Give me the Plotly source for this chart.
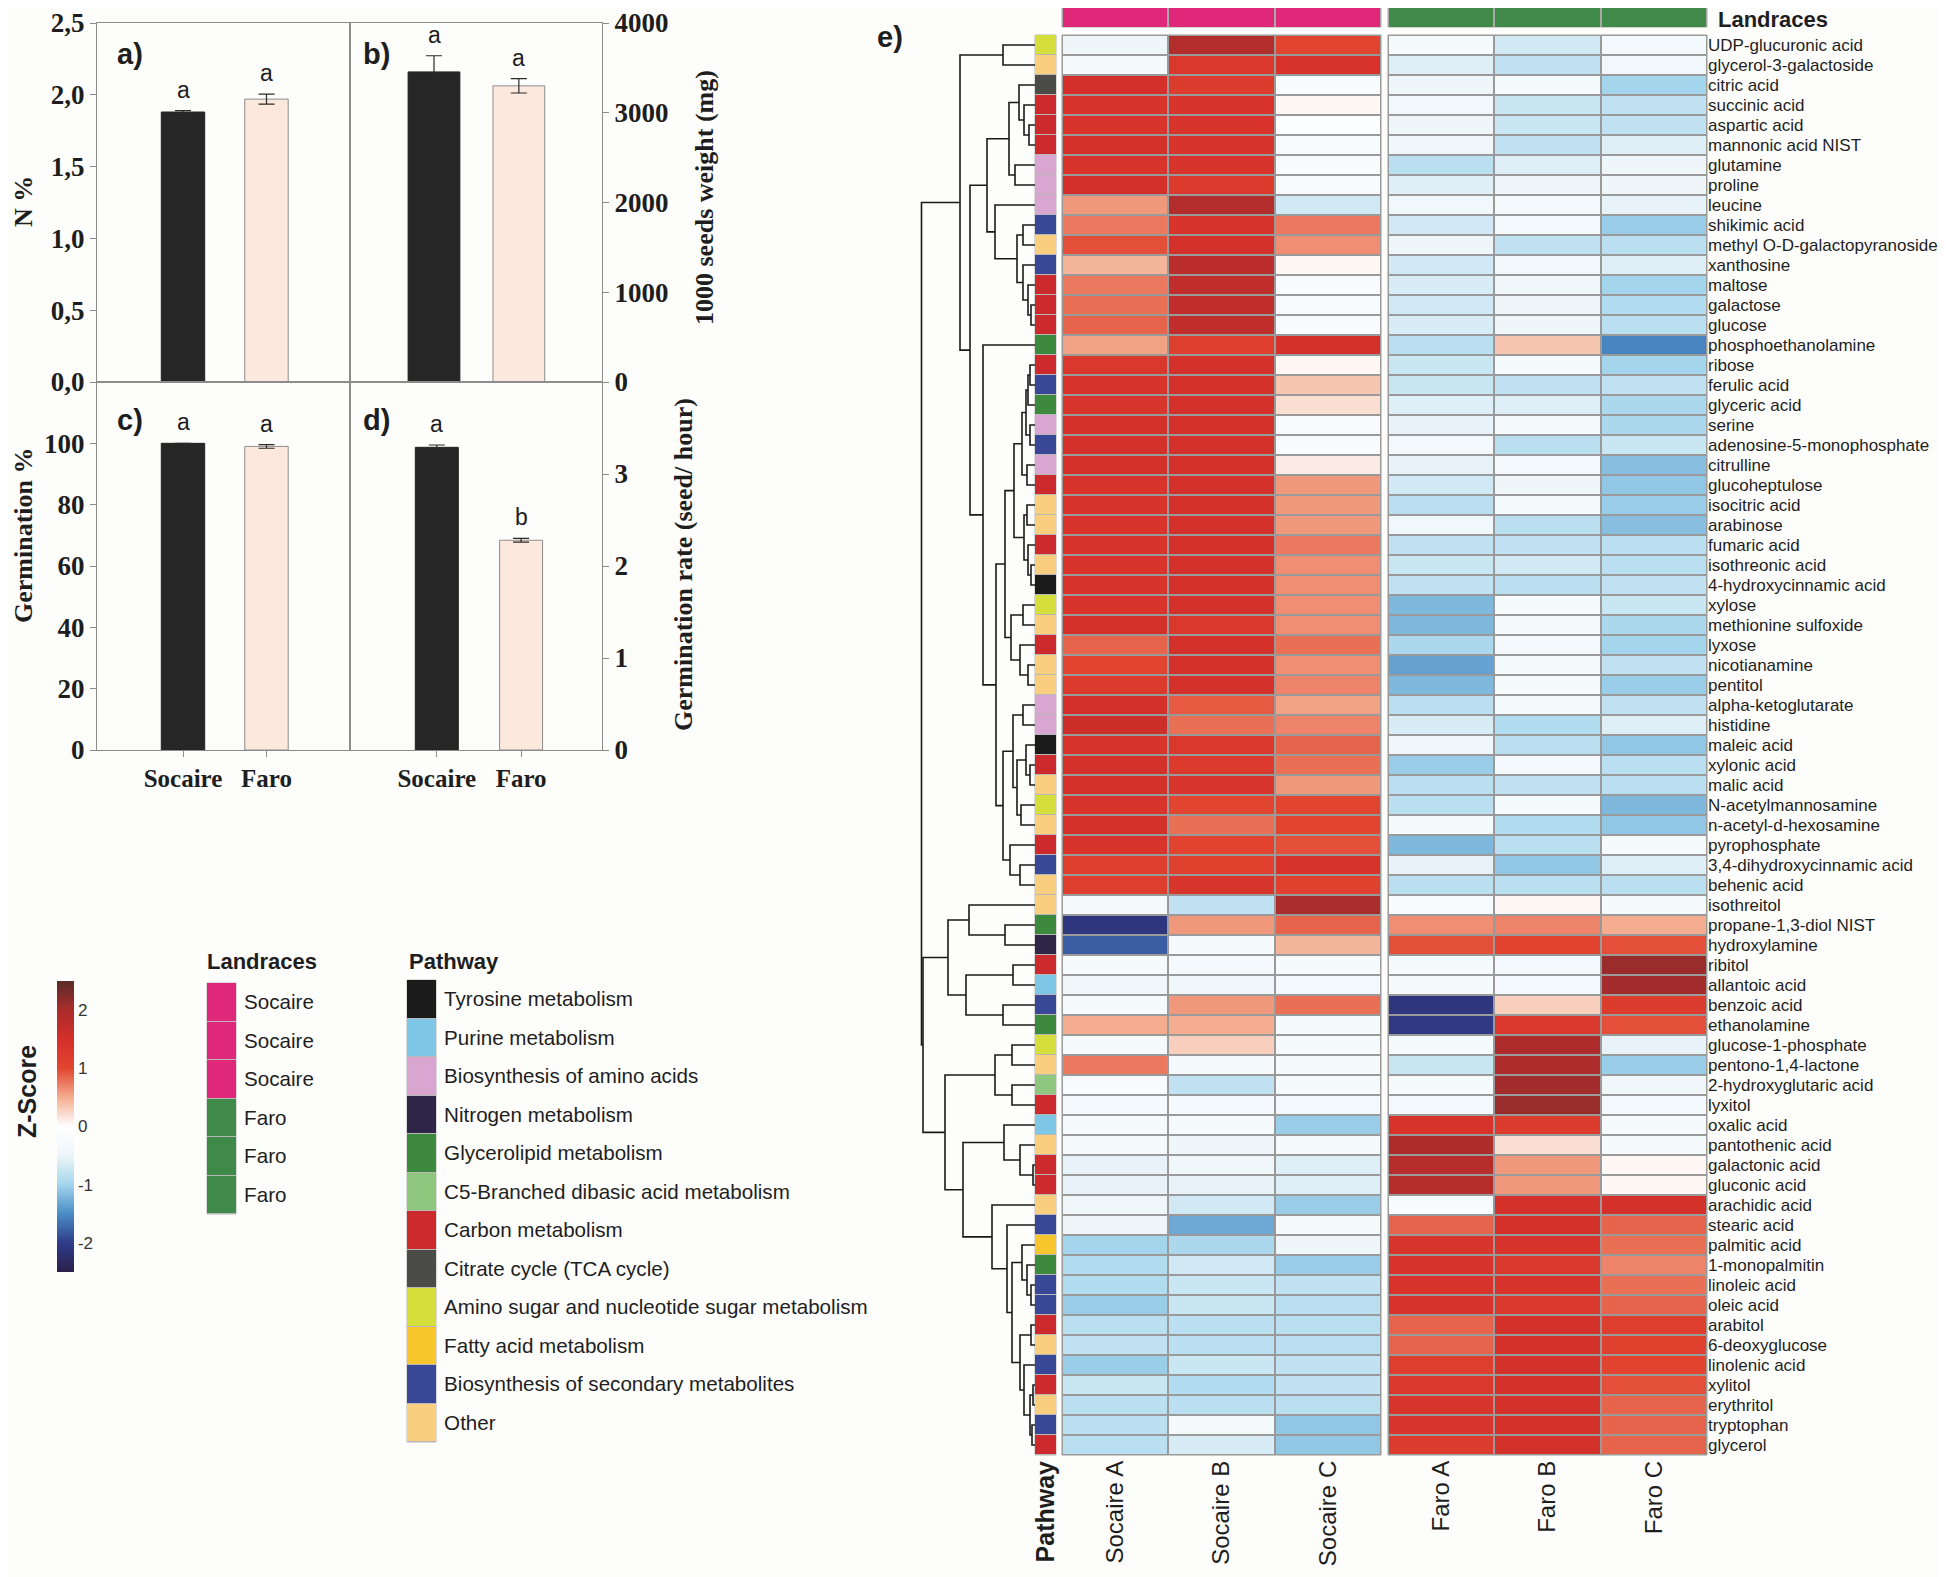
import plotly.graph_objects as go

W, H = 1946, 1577
OFF = 8                      # default page margin around the plot div
FW, FH = W - OFF, H - OFF
PAPER = "#fdfdfb"
SERIF = "Liberation Serif"
SANS = "Liberation Sans"
INK = "#1e1e1e"
AXIS_GREY = "#8c8c8c"

# ---------------- bar panels a-d ----------------
landraces = ["Socaire", "Faro"]
n_percent = [1.88, 1.97]
n_percent_err = [0.01, 0.035]
seed_weight = [3455, 3300]
seed_weight_err = [180, 80]
germination = [100.0, 99.0]
germination_err = [0.0, 0.6]
germination_rate = [3.29, 2.28]
germination_rate_err = [0.025, 0.02]
letters_n = ["a", "a"]
letters_weight = ["a", "a"]
letters_germ = ["a", "a"]
letters_rate = ["a", "b"]
bar_fill = ["#262626", "#fde8dd"]
bar_edge = ["#222222", "#8c8c8c"]

# ---------------- heatmap e ----------------
socaire_cols = ["Socaire A", "Socaire B", "Socaire C"]
faro_cols = ["Faro A", "Faro B", "Faro C"]

metabolites = [
    "UDP-glucuronic acid", "glycerol-3-galactoside", "citric acid", "succinic acid",
    "aspartic acid", "mannonic acid NIST", "glutamine", "proline", "leucine",
    "shikimic acid", "methyl O-D-galactopyranoside", "xanthosine", "maltose",
    "galactose", "glucose", "phosphoethanolamine", "ribose", "ferulic acid",
    "glyceric acid", "serine", "adenosine-5-monophosphate", "citrulline",
    "glucoheptulose", "isocitric acid", "arabinose", "fumaric acid",
    "isothreonic acid", "4-hydroxycinnamic acid", "xylose", "methionine sulfoxide",
    "lyxose", "nicotianamine", "pentitol", "alpha-ketoglutarate", "histidine",
    "maleic acid", "xylonic acid", "malic acid", "N-acetylmannosamine",
    "n-acetyl-d-hexosamine", "pyrophosphate", "3,4-dihydroxycinnamic acid",
    "behenic acid", "isothreitol", "propane-1,3-diol NIST", "hydroxylamine",
    "ribitol", "allantoic acid", "benzoic acid", "ethanolamine",
    "glucose-1-phosphate", "pentono-1,4-lactone", "2-hydroxyglutaric acid",
    "lyxitol", "oxalic acid", "pantothenic acid", "galactonic acid",
    "gluconic acid", "arachidic acid", "stearic acid", "palmitic acid",
    "1-monopalmitin", "linoleic acid", "oleic acid", "arabitol", "6-deoxyglucose",
    "linolenic acid", "xylitol", "erythritol", "tryptophan", "glycerol",
]

socaire_a = [-0.5, -0.3, 1.5, 1.4, 1.4, 1.45, 1.4, 1.5, 0.6, 0.75,
             0.95, 0.45, 0.75, 0.8, 0.85, 0.55, 1.3, 1.4, 1.35, 1.45,
             1.45, 1.45, 1.4, 1.4, 1.4, 1.4, 1.4, 1.4, 1.4, 1.45,
             0.85, 1.0, 1.25, 1.5, 1.6, 1.4, 1.45, 1.45, 1.4, 1.45,
             1.4, 1.15, 1.15, -0.3, -2.1, -1.8, -0.3, -0.45, -0.3, 0.5,
             -0.3, 0.75, -0.25, -0.35, -0.3, -0.3, -0.55, -0.55, -0.45, -0.5,
             -1.0, -0.9, -0.9, -1.05, -0.85, -0.8, -1.05, -0.75, -0.85, -0.85, -0.85]
socaire_b = [1.9, 1.3, 1.2, 1.4, 1.4, 1.4, 1.4, 1.25, 1.9, 1.4,
             1.45, 1.8, 1.75, 1.75, 1.75, 1.15, 1.45, 1.45, 1.45, 1.45,
             1.45, 1.45, 1.45, 1.45, 1.45, 1.45, 1.45, 1.45, 1.45, 1.3,
             1.45, 1.45, 1.45, 0.9, 0.8, 1.3, 1.25, 1.35, 1.0, 0.8,
             1.05, 1.1, 1.35, -0.8, 0.6, -0.3, -0.35, -0.45, 0.6, 0.5,
             0.3, -0.3, -0.8, -0.35, -0.3, -0.5, -0.45, -0.55, -0.7, -1.3,
             -0.95, -0.7, -0.75, -0.75, -0.85, -0.85, -0.75, -0.9, -0.85, -0.3, -0.65]
socaire_c = [1.0, 1.4, -0.2, 0.05, -0.1, -0.2, -0.2, -0.25, -0.7, 0.75,
             0.65, 0.05, -0.2, -0.25, -0.2, 1.45, 0.05, 0.35, 0.2, -0.2,
             -0.25, 0.12, 0.6, 0.6, 0.6, 0.75, 0.65, 0.65, 0.65, 0.65,
             0.8, 0.65, 0.7, 0.55, 0.7, 0.85, 0.8, 0.6, 1.0, 1.0,
             0.95, 1.4, 1.1, 2.0, 0.85, 0.45, -0.3, -0.35, 0.8, -0.3,
             -0.3, -0.3, -0.3, -0.35, -1.05, -0.3, -0.6, -0.6, -1.05, -0.3,
             -0.5, -1.05, -0.8, -0.85, -0.85, -0.85, -0.8, -0.8, -0.85, -1.1, -1.1]
faro_a = [-0.3, -0.6, -0.5, -0.4, -0.5, -0.45, -0.85, -0.6, -0.4, -0.7,
          -0.5, -0.7, -0.65, -0.7, -0.65, -0.85, -0.75, -0.75, -0.6, -0.55,
          -0.35, -0.55, -0.7, -0.85, -0.4, -0.8, -0.75, -0.8, -1.2, -1.2,
          -0.95, -1.35, -1.2, -0.85, -0.65, -0.45, -1.05, -0.85, -0.85, -0.3,
          -1.2, -0.55, -0.85, -0.25, 0.65, 0.95, -0.3, -0.3, -2.1, -2.05,
          -0.3, -0.75, -0.3, -0.35, 1.4, 1.95, 1.85, 1.85, -0.25, 0.85,
          1.35, 1.4, 1.4, 1.4, 0.85, 0.85, 1.15, 1.3, 1.35, 1.35, 1.2]
faro_b = [-0.7, -0.8, -0.3, -0.75, -0.75, -0.8, -0.6, -0.5, -0.35, -0.35,
          -0.8, -0.4, -0.45, -0.5, -0.5, 0.35, -0.3, -0.8, -0.6, -0.3,
          -0.85, -0.35, -0.5, -0.3, -0.85, -0.8, -0.7, -0.85, -0.3, -0.3,
          -0.35, -0.3, -0.3, -0.3, -0.9, -0.85, -0.35, -0.8, -0.3, -0.9,
          -0.85, -1.1, -0.85, 0.05, 0.7, 1.05, -0.35, -0.35, 0.3, 1.3,
          1.95, 1.95, 2.05, 2.1, 1.2, 0.2, 0.6, 0.6, 1.45, 1.45,
          1.4, 1.3, 1.4, 1.3, 1.45, 1.45, 1.45, 1.45, 1.45, 1.45, 1.45]
faro_c = [-0.35, -0.4, -1.0, -0.8, -0.8, -0.6, -0.5, -0.5, -0.55, -1.05,
          -0.85, -0.6, -1.0, -0.9, -0.85, -1.55, -1.0, -0.8, -0.95, -0.95,
          -0.75, -1.15, -1.1, -1.05, -1.15, -0.85, -0.85, -0.8, -0.75, -0.95,
          -1.0, -0.8, -1.05, -0.8, -0.6, -1.1, -0.85, -0.85, -1.2, -1.1,
          -0.3, -0.6, -0.85, -0.3, 0.5, 0.95, 2.1, 2.05, 1.2, 0.95,
          -0.55, -1.05, -0.45, -0.35, -0.3, -0.3, 0.05, 0.05, 1.45, 0.85,
          0.8, 0.7, 0.8, 0.85, 1.15, 1.1, 1.05, 0.95, 0.85, 0.85, 0.85]

pathway_codes = ["TYR", "PUR", "AA", "N", "GLY", "C5", "C", "TCA", "AS", "FA", "SEC", "OTH"]
pathways = ["Tyrosine metabolism", "Purine metabolism", "Biosynthesis of amino acids",
            "Nitrogen metabolism", "Glycerolipid metabolism",
            "C5-Branched dibasic acid metabolism", "Carbon metabolism",
            "Citrate cycle (TCA cycle)", "Amino sugar and nucleotide sugar metabolism",
            "Fatty acid metabolism", "Biosynthesis of secondary metabolites", "Other"]
pathway_colors = ["#1b1b1b", "#7ec6e6", "#d9a6d2", "#2f2547", "#3d8a3f", "#8fc77f",
                  "#cc2a2c", "#4b4b47", "#d5de3b", "#f6c62c", "#394896", "#f9cf7f"]
row_pathway = ["AS", "OTH", "TCA", "C", "C", "C", "AA", "AA", "AA", "SEC",
               "OTH", "SEC", "C", "C", "C", "GLY", "C", "SEC", "GLY", "AA",
               "SEC", "AA", "C", "OTH", "OTH", "C", "OTH", "TYR", "AS", "OTH",
               "C", "OTH", "OTH", "AA", "AA", "TYR", "C", "OTH", "AS", "OTH",
               "C", "SEC", "OTH", "OTH", "GLY", "N", "C", "PUR", "SEC", "GLY",
               "AS", "OTH", "C5", "C", "PUR", "OTH", "C", "C", "OTH", "SEC",
               "FA", "GLY", "SEC", "SEC", "C", "OTH", "SEC", "C", "OTH", "SEC", "C"]

landrace_names = ["Socaire", "Faro"]
landrace_colors = ["#e0287a", "#3f8a48"]

zscore_ticks = [-2, -1, 0, 1, 2]

# row dendrogram: [left, right, merge height]; leaves are row numbers (1-based)
clu_3_8 = [[3, [4, [5, 6, 6], 11], 16], [7, 8, 20], 26]
clu_9_15 = [9, [[10, 11, 12], [12, [13, [14, 15, 4], 7], 12], 18], 40]
clu_17_28 = [[[[[17, 18, 5], 19, 7], [20, 21, 5], 9], [22, 23, 8], 13],
             [[24, 25, 8], [26, [27, 28, 4], 7], 11], 21]
clu_29_33 = [[29, 30, 12], [31, [32, 33, 7], 15], 24]
clu_34_43 = [[[34, 35, 12], [[36, [37, 38, 5], 9], [39, 40, 14], 18], 22],
             [41, [42, 43, 15], 25], 32]
clu_1_43 = [[1, 2, 32],
            [[clu_3_8, clu_9_15, 48], [16, [[clu_17_28, clu_29_33, 30], clu_34_43, 39], 52], 65],
            75]
clu_44_50 = [[44, [45, 46, 30], 66], [[47, 48, 22], [49, 50, 32], 69], 87]
clu_51_54 = [[51, 52, 23], [53, 54, 23], 40]
clu_55_58 = [55, [56, [57, 58, 2], 15], 31]
clu_61_71 = [[61, [62, [63, 64, 4], 8], 13],
             [[65, 66, 4], [67, [[68, 69, 2], [70, 71, 3], 5], 11], 15], 23]
clu_55_71 = [clu_55_58, [59, [60, clu_61_71, 28], 43], 72]
row_tree = [clu_1_43, [clu_44_50, [clu_51_54, clu_55_71, 90], 112], 113.5]

zscale = [
    [0.0, "#2a1f4a"], [0.1, "#2f3c8a"], [0.2, "#4a8cc6"], [0.3, "#a3d5ec"],
    [0.4, "#eef6fa"], [0.5, "#ffffff"], [0.6, "#f4ad8f"], [0.7, "#e2452f"],
    [0.8, "#d42f2a"], [0.9, "#aa2c2c"], [1.0, "#5a2a2a"],
]


def xd(a, b):
    return [max(a - OFF, 0) / FW, min(b - OFF, FW) / FW]


def yd(a, b):
    return [1 - min(b - OFF, FH) / FH, 1 - max(a - OFF, 0) / FH]


def px(x):
    return (x - OFF) / FW


def py(y):
    return 1 - (y - OFF) / FH


def discrete_scale(colors):
    n = len(colors)
    scale = []
    for i, c in enumerate(colors):
        scale += [[i / n, c], [(i + 1) / n, c]]
    return scale


def dendro(node, xs, ys):
    if not isinstance(node, list):
        return node - 1, 0.0
    left, right, h = node
    yl, hl = dendro(left, xs, ys)
    yr, hr = dendro(right, xs, ys)
    xs += [hl, h, h, hr, None]
    ys += [yl, yl, yr, yr, None]
    return (yl + yr) / 2, h


fig = go.Figure()
annotations = []

# ---------------- bars ----------------
bar_panels = [
    ("x", "y", n_percent, n_percent_err, letters_n, 0.52),
    ("x2", "y2", seed_weight, seed_weight_err, letters_weight, 0.61),
    ("x3", "y3", germination, germination_err, letters_germ, 0.52),
    ("x4", "y4", germination_rate, germination_rate_err, letters_rate, 0.51),
]
for xa, ya, vals, errs, lets, bw in bar_panels:
    fig.add_trace(go.Bar(
        x=landraces, y=vals, width=bw, xaxis=xa, yaxis=ya, showlegend=False,
        marker=dict(color=bar_fill, line=dict(color=bar_edge, width=1)),
        error_y=dict(type="data", array=errs, color="#2a2a2a", thickness=1.2, width=8),
    ))
    for cat, v, e, lt in zip(landraces, vals, errs, lets):
        annotations.append(dict(
            x=cat, y=v + e, xref=xa, yref=ya, text=lt, showarrow=False,
            yanchor="bottom", yshift=6, font=dict(family=SANS, size=23, color=INK)))

ytick_font = dict(family=SERIF, size=27, color=INK, weight="bold")
xtick_font = dict(family=SERIF, size=25, color=INK, weight="bold")
title_serif = dict(family=SERIF, size=26, color=INK, weight="bold")
bar_x_common = dict(type="category", showline=True, mirror=True, linecolor=AXIS_GREY,
                    linewidth=1, showgrid=False, zeroline=False, automargin=False)
bar_y_common = dict(showline=True, mirror=True, linecolor=AXIS_GREY, linewidth=1,
                    showgrid=False, zeroline=False, ticks="outside", ticklen=6,
                    tickcolor=AXIS_GREY, tickfont=ytick_font, automargin=False,
                    ticklabeloverflow="allow")
x_top = dict(bar_x_common, showticklabels=False, ticks="")
x_bot = dict(bar_x_common, ticks="outside", ticklen=6, tickcolor=AXIS_GREY, tickfont=xtick_font)

layout_axes = dict(
    xaxis=dict(x_top, domain=xd(97, 350), range=[-1.03, 2.0], anchor="y"),
    yaxis=dict(bar_y_common, domain=yd(23, 382), range=[0, 2.5],
               tickvals=[0, 0.5, 1, 1.5, 2, 2.5], tickformat=".1f", anchor="x"),
    xaxis2=dict(x_top, domain=xd(350, 602), range=[-0.99, 1.98], anchor="y2"),
    yaxis2=dict(bar_y_common, domain=yd(23, 382), range=[0, 4000], side="right",
                tickvals=[0, 1000, 2000, 3000, 4000], anchor="x2"),
    xaxis3=dict(x_bot, domain=xd(97, 350), range=[-1.03, 2.0], anchor="y3"),
    yaxis3=dict(bar_y_common, domain=yd(382, 750), range=[0, 120],
                tickvals=[0, 20, 40, 60, 80, 100], anchor="x3"),
    xaxis4=dict(x_bot, domain=xd(350, 602), range=[-1.03, 1.96], anchor="y4"),
    yaxis4=dict(bar_y_common, domain=yd(382, 750), range=[0, 4], side="right",
                tickvals=[0, 1, 2, 3], anchor="x4"),
)

for txt, x, y in [("a)", 130, 54), ("b)", 376, 54), ("c)", 130, 420), ("d)", 376, 420), ("e)", 890, 37)]:
    annotations.append(dict(x=px(x), y=py(y), xref="paper", yref="paper", text=txt,
                            showarrow=False, xanchor="center", yanchor="middle",
                            font=dict(family=SANS, size=29, color=INK, weight="bold")))

for txt, x, y in [("N %", 23, 202), ("Germination %", 23, 535),
                  ("1000 seeds weight (mg)", 704, 198),
                  ("Germination rate (seed/ hour)", 684, 565)]:
    annotations.append(dict(x=px(x), y=py(y), xref="paper", yref="paper", text=txt,
                            textangle=-90, showarrow=False, xanchor="center", yanchor="middle",
                            font=title_serif))

# ---------------- heatmap ----------------
rows = list(range(len(metabolites)))
z_soc = [[a, b, c] for a, b, c in zip(socaire_a, socaire_b, socaire_c)]
z_far = [[a, b, c] for a, b, c in zip(faro_a, faro_b, faro_c)]

fig.add_trace(go.Heatmap(z=z_soc, x=socaire_cols, y=rows, xaxis="x5", yaxis="y5",
                         coloraxis="coloraxis", xgap=2, ygap=2, hoverinfo="skip"))
fig.add_trace(go.Heatmap(z=z_far, x=faro_cols, y=rows, xaxis="x6", yaxis="y6",
                         coloraxis="coloraxis", xgap=2, ygap=2, hoverinfo="skip"))

# pathway colour column
path_idx = [[pathway_codes.index(p)] for p in row_pathway]
path_scale = discrete_scale(pathway_colors)
fig.add_trace(go.Heatmap(z=path_idx, x=["Pathway"], y=rows, xaxis="x7", yaxis="y5",
                         colorscale=path_scale, zmin=-0.5, zmax=len(pathways) - 0.5,
                         showscale=False, ygap=1, hoverinfo="skip"))

# landrace bars on top
land_scale = discrete_scale(landrace_colors)
for xa, cols, k in [("x5", socaire_cols, 0), ("x6", faro_cols, 1)]:
    fig.add_trace(go.Heatmap(z=[[k] * len(cols)], x=cols, y=[0], xaxis=xa, yaxis="y7",
                             colorscale=land_scale, zmin=-0.5, zmax=1.5, showscale=False,
                             xgap=2, hoverinfo="skip"))

# dendrogram
dx, dy = [], []
dendro(row_tree, dx, dy)
fig.add_trace(go.Scatter(x=dx, y=dy, mode="lines", xaxis="x8", yaxis="y5", showlegend=False,
                         line=dict(color="#1a1a1a", width=1.6), hoverinfo="skip"))

# legends
land_legend = [landrace_names[0]] * 3 + [landrace_names[1]] * 3
fig.add_trace(go.Heatmap(z=[[landrace_names.index(n)] for n in land_legend],
                         x=[0], y=list(range(len(land_legend))), xaxis="x9", yaxis="y9",
                         colorscale=land_scale, zmin=-0.5, zmax=1.5, showscale=False,
                         ygap=1, hoverinfo="skip"))
fig.add_trace(go.Heatmap(z=[[i] for i in range(len(pathways))], x=[0],
                         y=list(range(len(pathways))), xaxis="x10", yaxis="y10",
                         colorscale=path_scale, zmin=-0.5, zmax=len(pathways) - 0.5,
                         showscale=False, ygap=1, hoverinfo="skip"))

hidden = dict(visible=False, automargin=False, showgrid=False, zeroline=False)
nrow = len(metabolites)
col_font = dict(family=SANS, size=24, color=INK)
legend_font = dict(family=SANS, size=20.6, color=INK)
layout_axes.update(
    xaxis5=dict(domain=xd(1062, 1381), anchor="y5", tickangle=-90, ticks="", showgrid=False,
                zeroline=False, showline=False, tickfont=col_font, automargin=False),
    yaxis5=dict(hidden, domain=yd(35, 1455), range=[nrow - 0.5, -0.5], anchor="x5"),
    xaxis6=dict(domain=xd(1388, 1707), anchor="y6", tickangle=-90, ticks="", showgrid=False,
                zeroline=False, showline=False, tickfont=col_font, automargin=False),
    yaxis6=dict(domain=yd(35, 1455), range=[nrow - 0.5, -0.5], anchor="x6", side="right",
                tickvals=rows, ticktext=metabolites, ticks="", showgrid=False, zeroline=False,
                showline=False, automargin=False,
                tickfont=dict(family=SANS, size=17, color=INK)),
    xaxis7=dict(domain=xd(1035, 1056), anchor="y5", tickangle=-90, ticks="", showgrid=False,
                zeroline=False, showline=False, automargin=False,
                tickfont=dict(family=SANS, size=25, color=INK, weight="bold")),
    yaxis7=dict(hidden, domain=yd(2, 27), range=[-0.5, 0.5], anchor="x5"),
    xaxis8=dict(hidden, domain=xd(900, 1035), range=[135, 0], anchor="y5"),
    xaxis9=dict(hidden, domain=xd(207, 236), anchor="y9"),
    yaxis9=dict(domain=yd(983, 1214), range=[len(land_legend) - 0.5, -0.5], anchor="x9",
                side="right", tickvals=list(range(len(land_legend))), ticktext=land_legend,
                ticks="outside", ticklen=3, tickcolor="rgba(0,0,0,0)", showgrid=False,
                zeroline=False, showline=False, automargin=False, tickfont=legend_font),
    xaxis10=dict(hidden, domain=xd(407, 436), anchor="y10"),
    yaxis10=dict(domain=yd(980, 1442), range=[len(pathways) - 0.5, -0.5], anchor="x10",
                 side="right", tickvals=list(range(len(pathways))), ticktext=pathways,
                 ticks="outside", ticklen=3, tickcolor="rgba(0,0,0,0)", showgrid=False,
                 zeroline=False, showline=False, automargin=False, tickfont=legend_font),
)

# grey frames behind the tiles (visible through the gaps)
shapes = []
for xr, yr, col in [("x5", "y5", "#9a9a9a"), ("x6", "y6", "#9a9a9a"), ("x7", "y5", "#b8b8b8"),
                    ("x5", "y7", "#a8a8a8"), ("x6", "y7", "#a8a8a8"),
                    ("x9", "y9", "#b8b8b8"), ("x10", "y10", "#b8b8b8")]:
    shapes.append(dict(type="rect", xref=f"{xr} domain", yref=f"{yr} domain",
                       x0=0, x1=1, y0=0, y1=1, fillcolor=col,
                       line=dict(color=col, width=1), layer="below"))

title_font = dict(family=SANS, size=22, color=INK, weight="bold")
for txt, x, y in [("Landraces", 1716, 19), ("Landraces", 205, 961), ("Pathway", 407, 961)]:
    annotations.append(dict(x=px(x), y=py(y), xref="paper", yref="paper", text=txt,
                            showarrow=False, xanchor="left", yanchor="middle", font=title_font))
annotations.append(dict(x=px(27), y=py(1092), xref="paper", yref="paper", text="Z-Score",
                        textangle=-90, showarrow=False, xanchor="center", yanchor="middle",
                        font=dict(family=SANS, size=25, color=INK, weight="bold")))

fig.update_layout(
    width=FW, height=FH, template="none",
    margin=dict(l=0, r=0, t=0, b=0),
    paper_bgcolor=PAPER, plot_bgcolor="rgba(0,0,0,0)",
    separators=",.", hovermode=False, showlegend=False,
    font=dict(family=SANS, color=INK),
    coloraxis=dict(
        colorscale=zscale, cmin=-2.5, cmax=2.5,
        colorbar=dict(x=px(57), xanchor="left", y=py(1126.5), yanchor="middle",
                      len=291 / FH, lenmode="fraction", thickness=17, thicknessmode="pixels",
                      outlinewidth=0, tickvals=zscore_ticks,
                      ticktext=[str(t) for t in zscore_ticks], ticks="",
                      tickfont=dict(family=SANS, size=17, color="#333"), xpad=0, ypad=0),
    ),
    annotations=annotations,
    shapes=shapes,
    **layout_axes,
)

fig.write_html("out.html")
